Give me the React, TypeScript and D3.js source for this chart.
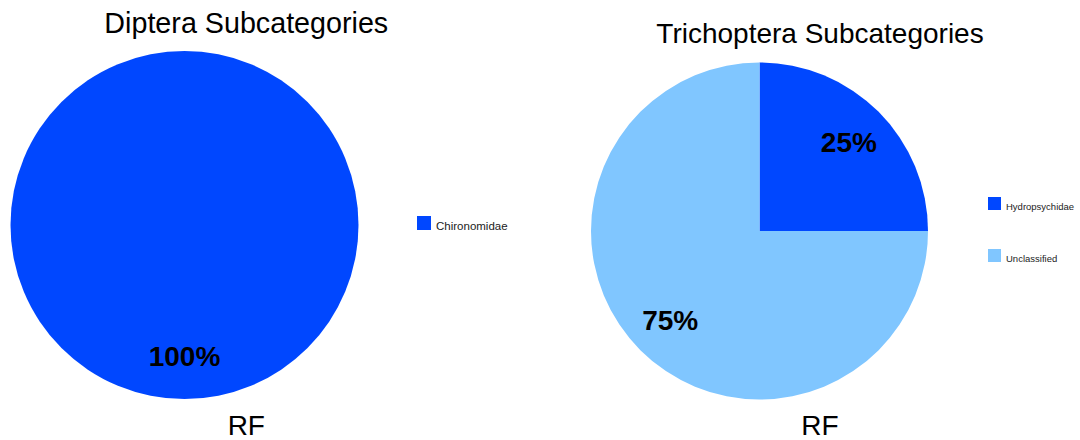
import React from "react";
import * as d3 from "d3";

const dipteraCategories = ["Chironomidae"];
const dipteraValues = [100];
const trichopteraCategories = ["Hydropsychidae", "Unclassified"];
const trichopteraValues = [25, 75];
const siteLabel = "RF";
const sliceColors = ["#0047FF", "#80C6FF"];

const FONT = "'Liberation Sans', Arial, Helvetica, sans-serif";

type PanelProps = {
  title: string;
  categories: string[];
  values: number[];
  cx: number;
  cy: number;
  r: number;
  titleX: number;
  titleY: number;
  titleSize: number;
  legendX: number;
  legendY: number;
  legendGap: number;
  legendSwatch: number;
  legendFont: number;
};

function PiePanel(p: PanelProps) {
  const color = d3.scaleOrdinal<string, string>().domain(p.categories).range(sliceColors);
  const pie = d3.pie<number>().sort(null).value((d) => d);
  const arcs = pie(p.values);
  const arc = d3.arc<d3.PieArcDatum<number>>().innerRadius(0).outerRadius(p.r);
  const labelArc = d3.arc<d3.PieArcDatum<number>>().innerRadius(p.r * 0.75).outerRadius(p.r * 0.75);
  const total = d3.sum(p.values);
  const fmt = d3.format(".0%");
  return (
    <g>
      <text x={p.titleX} y={p.titleY} textAnchor="middle" fontSize={p.titleSize} fontFamily={FONT} fill="#000">
        {p.title}
      </text>
      <g transform={`translate(${p.cx},${p.cy})`}>
        {arcs.map((a, i) => (
          <path key={i} d={arc(a) || ""} fill={color(p.categories[i])} />
        ))}
        {arcs.map((a, i) => {
          const [lx, ly] = labelArc.centroid(a);
          return (
            <text key={"l" + i} x={lx} y={ly} dy="0.36em" textAnchor="middle" fontSize={28} fontWeight="bold" fontFamily={FONT} fill="#000">
              {fmt(a.value / total)}
            </text>
          );
        })}
      </g>
      <text x={p.titleX} y={435} textAnchor="middle" fontSize={28} fontFamily={FONT} fill="#000">
        {siteLabel}
      </text>
      {p.categories.map((c, i) => (
        <g key={c} transform={`translate(${p.legendX},${p.legendY + i * p.legendGap})`}>
          <rect width={p.legendSwatch} height={p.legendSwatch} fill={color(c)} />
          <text x={p.legendSwatch + 5} y={p.legendSwatch} fontSize={p.legendFont} fontFamily={FONT} fill="#222">
            {c}
          </text>
        </g>
      ))}
    </g>
  );
}

export default function App() {
  return (
    <svg width={1080} height={440} style={{ position: "absolute", left: 0, top: 0, display: "block", background: "#fff" }}>
      <rect width={1080} height={440} fill="#fff" />
      <PiePanel
        title="Diptera Subcategories"
        categories={dipteraCategories}
        values={dipteraValues}
        cx={184.5}
        cy={225}
        r={174}
        titleX={246.3}
        titleY={33}
        titleSize={28.7}
        legendX={417}
        legendY={216}
        legendGap={52}
        legendSwatch={14}
        legendFont={11.5}
      />
      <PiePanel
        title="Trichoptera Subcategories"
        categories={trichopteraCategories}
        values={trichopteraValues}
        cx={759.5}
        cy={231}
        r={168.5}
        titleX={820}
        titleY={43}
        titleSize={28}
        legendX={988}
        legendY={197}
        legendGap={52}
        legendSwatch={13}
        legendFont={9.5}
      />
    </svg>
  );
}
